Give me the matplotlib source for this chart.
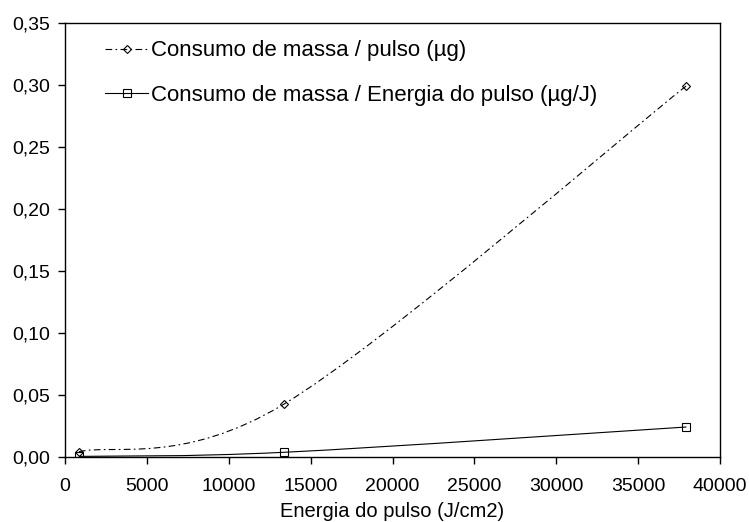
import numpy as np
import matplotlib
matplotlib.use("Agg")
import matplotlib.pyplot as plt
from matplotlib.path import Path
from matplotlib.patches import PathPatch
from matplotlib.lines import Line2D
from matplotlib.ticker import FuncFormatter, MultipleLocator

plt.rcParams['font.family'] = ['Liberation Sans', 'DejaVu Sans']

# data
energia = [850, 13350, 37950]
massa_pulso = [0.0043, 0.0425, 0.2994]
massa_energia = [0.0005, 0.0038, 0.0242]
labels = ["Consumo de massa / pulso (\u00b5g)",
          "Consumo de massa / Energia do pulso (\u00b5g/J)"]


def smooth_path(x, y):
    """
    smoothed line through the points, like the spreadsheet does it
    (catmull-rom turned into cubic bezier segments)
    """
    pts = np.column_stack([x, y]).astype(float)
    n = len(pts)
    verts = [pts[0]]
    codes = [Path.MOVETO]
    for i in range(n - 1):
        p0 = pts[max(i - 1, 0)]
        p1 = pts[i]
        p2 = pts[i + 1]
        p3 = pts[min(i + 2, n - 1)]
        c1 = p1 + (p2 - p0) / 6.0
        c2 = p2 - (p3 - p1) / 6.0
        verts += [c1, c2, p2]
        codes += [Path.CURVE4] * 3
    return Path(verts, codes)


fig = plt.figure(figsize=(7.49, 5.22), dpi=100)
ax = fig.add_axes([0.0868, 0.1245, 0.8745, 0.8315])

dash_style = (0, (6, 3, 1.5, 3))

ax.add_patch(PathPatch(smooth_path(energia, massa_pulso), fill=False,
                       edgecolor='black', linewidth=0.8, linestyle=dash_style))
ax.add_patch(PathPatch(smooth_path(energia, massa_energia), fill=False,
                       edgecolor='black', linewidth=0.8, linestyle='-'))

# open markers, the line shows through them
ax.plot(energia, massa_pulso, linestyle='none', marker='D', markersize=4.5,
        markerfacecolor='none', markeredgecolor='black', markeredgewidth=0.8,
        zorder=3)
ax.plot(energia, massa_energia, linestyle='none', marker='s', markersize=6,
        markerfacecolor='none', markeredgecolor='black', markeredgewidth=0.8,
        zorder=3)

handles = [
    Line2D([], [], color='black', linewidth=0.8, linestyle=dash_style,
           marker='D', markersize=4, markerfacecolor='none',
           markeredgecolor='black', markeredgewidth=0.8),
    Line2D([], [], color='black', linewidth=0.8, linestyle='-',
           marker='s', markersize=5.5, markerfacecolor='none',
           markeredgecolor='black', markeredgewidth=0.8),
]
ax.legend(handles, labels, loc='upper left', bbox_to_anchor=(0.061, 0.96),
          frameon=False, fontsize=16, handlelength=1.95, handletextpad=0.1,
          labelspacing=1.05, borderpad=0, borderaxespad=0)

ax.set_xlim(0, 40000)
ax.set_ylim(0, 0.35)
ax.xaxis.set_major_locator(MultipleLocator(5000))
ax.yaxis.set_major_locator(MultipleLocator(0.05))
ax.yaxis.set_major_formatter(FuncFormatter(lambda v, p: "{:.2f}".format(v).replace('.', ',')))
ax.xaxis.set_major_formatter(FuncFormatter(lambda v, p: "{:d}".format(int(round(v)))))
ax.tick_params(direction='out', length=5, width=1, labelsize=14)
ax.tick_params(axis='x', pad=10)
ax.tick_params(axis='y', pad=6)
for s in ax.spines.values():
    s.set_linewidth(1)

ax.set_xlabel("Energia do pulso (J/cm2)", fontsize=14.5, labelpad=5)

fig.savefig("out.png", dpi=100)
